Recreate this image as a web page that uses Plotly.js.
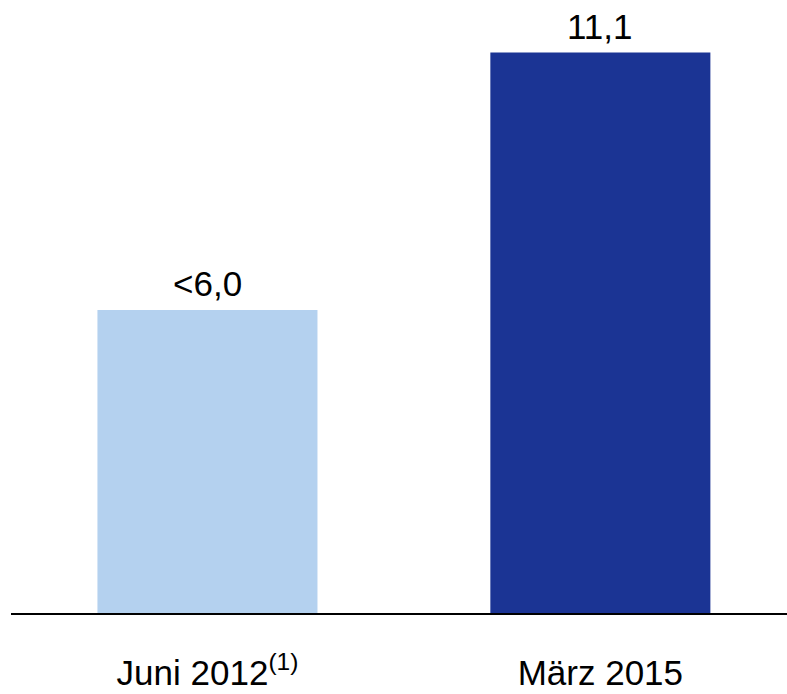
<!DOCTYPE html>
<html><head><meta charset="utf-8">
<script src="https://cdn.plot.ly/plotly-3.0.1.min.js"></script>
<style>html,body{margin:0;padding:0;background:#fff}</style>
</head><body>
<div id="chart" style="width:787px;height:694px"></div>
<script>
const categories = ["Juni 2012<sup>(1)</sup>", "März 2015"];
const values = [6.0, 11.1];
const valueLabels = ["<6,0", "11,1"];
const colors = ["#b4d1ef", "#1b3494"];

const xs = categories.map((c, i) => i);
const trace = {
  type: "bar", x: xs, y: values, width: 0.56,
  marker: {color: colors, line: {width: 0}},
  hoverinfo: "none"
};
const annotations = values.map((v, i) => ({
  x: i, y: v, xref: "x", yref: "y", text: valueLabels[i].replace("<", "&lt;"),
  showarrow: false, yanchor: "bottom", yshift: 5,
  font: {family: "Liberation Sans, Arial, sans-serif", size: 35, color: "#000"}
}));
const layout = {
  width: 787, height: 694,
  margin: {l: 11, r: 0, t: 0, b: 81, pad: 0},
  paper_bgcolor: "#fff", plot_bgcolor: "#fff",
  showlegend: false,
  xaxis: {type: "linear", range: [-0.5, 1.475], tickvals: xs, ticktext: categories,
    showgrid: false, zeroline: false, showline: true, linecolor: "#000", linewidth: 2,
    ticks: "", ticklabelstandoff: 28,
    tickfont: {family: "Liberation Sans, Arial, sans-serif", size: 35, color: "#000"}},
  yaxis: {range: [0, 12.14], visible: false, showgrid: false, zeroline: false},
  annotations: annotations
};
Plotly.newPlot("chart", [trace], layout, {staticPlot: true, displayModeBar: false});
</script>
</body></html>
